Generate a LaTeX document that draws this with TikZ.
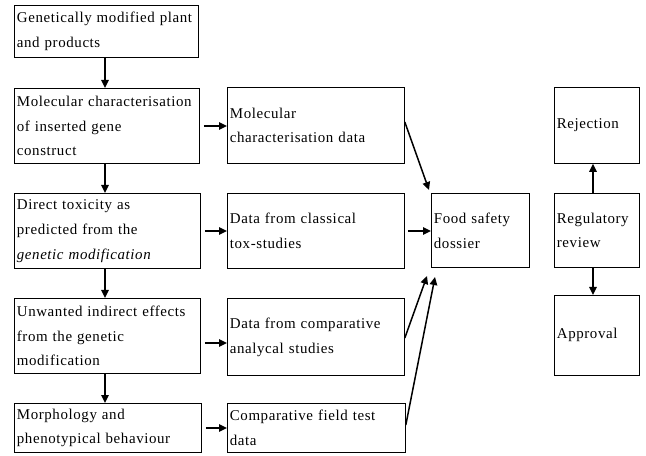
\documentclass[tikz,border=0pt]{standalone}
\usepackage{fontspec}
\setmainfont{Liberation Serif}[LetterSpace=4,WordSpace=1.9]
\usetikzlibrary{arrows.meta}

\begin{document}
\begin{tikzpicture}[x=1bp,y=-1bp,
  box/.style={draw, line width=0.8bp, rectangle, anchor=north west, align=left,
    inner xsep=2.5bp, inner ysep=0pt, font=\fontsize{15}{25}\selectfont},
  flow/.style={-{Triangle[length=8bp,width=7.5bp]}, line width=1.5bp}]
\useasboundingbox (0,0) rectangle (646,456);

% left column: sources of possible effects
\node[box, minimum width=184bp, minimum height=52bp, text width=179bp] (g1) at (14,5)
  {Genetically modified plant\\and products};
\node[box, minimum width=185bp, minimum height=75bp, text width=180bp] (g2) at (14,88)
  {Molecular characterisation\\of inserted gene\\construct};
\node[box, minimum width=186bp, minimum height=75bp, text width=181bp] (g3) at (14,193)
  {Direct toxicity as\\predicted from the\\\textit{genetic modification}};
\node[box, minimum width=186bp, minimum height=75bp, text width=181bp] (g4) at (14,298)
  {Unwanted indirect effects\\from the genetic\\modification};
\node[box, minimum width=187bp, minimum height=49bp, text width=182bp] (g5) at (14,403)
  {Morphology and\\phenotypical behaviour};

% middle column: data produced
\node[box, minimum width=177bp, minimum height=76bp, text width=172bp] (d2) at (227,87)
  {Molecular\\characterisation data};
\node[box, minimum width=177bp, minimum height=75bp, text width=172bp] (d3) at (227,193)
  {Data from classical\\tox-studies};
\node[box, minimum width=177bp, minimum height=77bp, text width=172bp] (d4) at (227,298)
  {Data from comparative\\analycal studies};
\node[box, minimum width=178bp, minimum height=49bp, text width=173bp] (d5) at (227,403)
  {Comparative field test\\data};

% dossier and regulatory outcome
\node[box, minimum width=98bp, minimum height=74bp, text width=93bp] (fs) at (431,193)
  {Food safety\\dossier};
\node[box, minimum width=85bp, minimum height=76bp, text width=80bp] (rej) at (554,87)
  {Rejection};
\node[box, minimum width=85bp, minimum height=74bp, text width=80bp] (reg) at (554,193)
  {Regulatory\\review};
\node[box, minimum width=85bp, minimum height=80bp, text width=80bp] (app) at (554,295)
  {Approval};

% vertical chain on the left
\foreach \a/\b in {g1/g2, g2/g3, g3/g4, g4/g5}
  \draw[flow] (\a.south -| 105,0) -- (\b.north -| 105,0);

% left column to data boxes
\draw[flow, shorten <=4bp] (g2.east |- 0,126) -- (d2.west |- 0,126);
\draw[flow, shorten <=4bp] (g3.east |- 0,231) -- (d3.west |- 0,231);
\draw[flow, shorten <=4bp] (g4.east |- 0,343) -- (d4.west |- 0,343);
\draw[flow, shorten <=4bp] (g5.east |- 0,428) -- (d5.west |- 0,428);

% data boxes into the dossier
\coordinate (fsA) at (429,190);
\coordinate (fsB) at (427,276);
\coordinate (fsC) at (435,277);
\draw[flow] (d2.east |- 0,122) -- (fsA);
\draw[flow, shorten <=3bp] (d3.east |- 0,231) -- (fs.west |- 0,231);
\draw[flow] (d4.east |- 0,338) -- (fsB);
\draw[flow] (d5.east |- 0,425) -- (fsC);

% regulatory review outcomes
\draw[flow] (reg.north -| 593,0) -- (rej.south -| 593,0);
\draw[flow] (reg.south -| 593,0) -- (app.north -| 593,0);
\end{tikzpicture}
\end{document}
